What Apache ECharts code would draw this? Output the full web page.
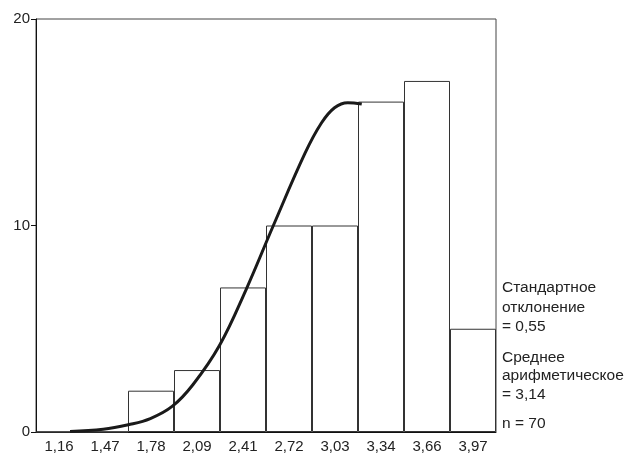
<!DOCTYPE html>
<html>
<head>
<meta charset="utf-8">
<script src="https://cdn.jsdelivr.net/npm/echarts@6/dist/echarts.min.js"></script>
<style>
  html, body { margin: 0; padding: 0; background: #fff; }
  #chart { width: 638px; height: 461px; }
</style>
</head>
<body>
<div id="chart"></div>
<script>
// интервалы гистограммы (подписи оси X)
const categories = ['1,16', '1,47', '1,78', '2,09', '2,41', '2,72', '3,03', '3,34', '3,66', '3,97'];
// частоты
const counts = [0, 0, 2, 3, 7, 10, 10, 16, 17, 5];
// кривая нормального распределения
const curveX = [1.235, 1.46, 1.63, 1.78, 1.93, 2.07, 2.25, 2.43, 2.615, 2.83, 2.94, 3.03, 3.12, 3.215];
const curveY = [0.03, 0.13, 0.35, 0.65, 1.25, 2.3, 4.2, 6.9, 10.0, 13.5, 14.95, 15.7, 15.95, 15.88];
const yTicks = [0, 10, 20];

const font = '"Liberation Sans", Arial, sans-serif';
const first = parseFloat(categories[0].replace(',', '.'));
const last = parseFloat(categories[categories.length - 1].replace(',', '.'));
const step = (last - first) / (categories.length - 1);

const chart = echarts.init(document.getElementById('chart'));
chart.setOption({
  animation: false,
  backgroundColor: '#fff',
  grid: {
    left: 36, right: 142, top: 19, bottom: 29,
    show: true, borderColor: '#444', borderWidth: 1, backgroundColor: 'transparent'
  },
  xAxis: [
    {
      type: 'category',
      data: categories,
      boundaryGap: true,
      axisLine: { lineStyle: { color: '#111', width: 1 } },
      axisTick: { alignWithLabel: true, length: 5, lineStyle: { color: '#111' } },
      axisLabel: { color: '#222', fontSize: 15, fontFamily: font, margin: 7 }
    },
    {
      type: 'value',
      min: first - step / 2,
      max: last + step / 2,
      show: false
    }
  ],
  yAxis: {
    type: 'value',
    min: yTicks[0],
    max: yTicks[yTicks.length - 1],
    interval: 10,
    axisLine: { show: true, lineStyle: { color: '#111', width: 1 } },
    axisTick: { show: true, length: 5, lineStyle: { color: '#111' } },
    axisLabel: { color: '#222', fontSize: 15, fontFamily: font, margin: 6 },
    splitLine: { show: false }
  },
  series: [
    {
      type: 'bar',
      data: counts,
      barWidth: '100%',
      barGap: '0%',
      itemStyle: { color: '#fff', borderColor: '#333', borderWidth: 1 },
      silent: true
    },
    {
      type: 'line',
      xAxisIndex: 1,
      data: curveX.map((x, i) => [x, curveY[i]]),
      smooth: 0.4,
      symbol: 'none',
      lineStyle: { color: '#1a1a1a', width: 3 },
      z: 5
    }
  ],
  graphic: [
    {
      type: 'text', left: 502, top: 278,
      style: { text: 'Стандартное\nотклонение\n= 0,55', font: '15.5px ' + font, fill: '#222', lineHeight: 19.5 }
    },
    {
      type: 'text', left: 502, top: 348,
      style: { text: 'Среднее\nарифметическое\n= 3,14', font: '15.5px ' + font, fill: '#222', lineHeight: 18.5 }
    },
    {
      type: 'text', left: 502, top: 416,
      style: { text: 'n = 70', font: '15.5px ' + font, fill: '#222' }
    }
  ]
});
</script>
</body>
</html>
